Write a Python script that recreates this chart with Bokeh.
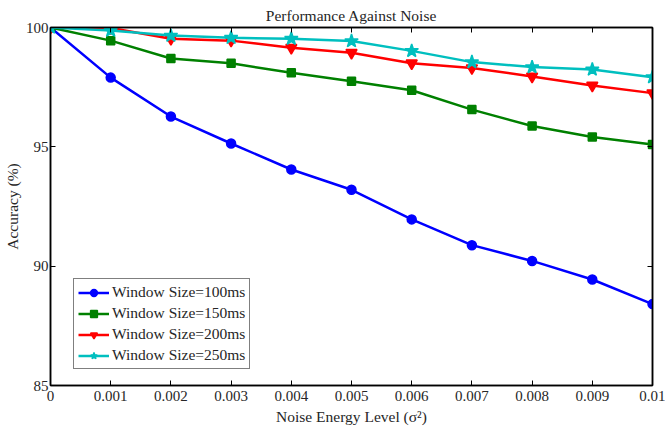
from bokeh.plotting import figure
from bokeh.models import FixedTicker, LinearAxis, Range1d, Legend, LegendItem
from bokeh.embed import file_html
from bokeh.resources import INLINE

noise = [0, 0.001, 0.002, 0.003, 0.004, 0.005, 0.006, 0.007, 0.008, 0.009, 0.01]
acc_100 = [100, 97.9, 96.27, 95.14, 94.05, 93.2, 91.96, 90.88, 90.22, 89.44, 88.41]
acc_150 = [100, 99.45, 98.7, 98.5, 98.1, 97.75, 97.37, 96.56, 95.87, 95.41, 95.1]
acc_200 = [100, 99.98, 99.53, 99.45, 99.15, 98.94, 98.5, 98.3, 97.95, 97.57, 97.25]
acc_250 = [100, 99.87, 99.66, 99.57, 99.53, 99.43, 99.02, 98.55, 98.34, 98.24, 97.92]
x_ticks = [0, 0.001, 0.002, 0.003, 0.004, 0.005, 0.006, 0.007, 0.008, 0.009, 0.01]
x_tick_labels = ["0", "0.001", "0.002", "0.003", "0.004", "0.005", "0.006", "0.007", "0.008", "0.009", "0.01"]
y_ticks = [85, 90, 95, 100]
labels = ["Window Size=100ms", "Window Size=150ms", "Window Size=200ms", "Window Size=250ms"]

FONT = "Liberation Serif"
TXT = "#262626"

p = figure(width=665, height=428, output_backend="svg", toolbar_location=None,
           x_range=Range1d(0, 0.01), y_range=Range1d(85, 100),
           min_border_left=49, min_border_right=13, min_border_top=27, min_border_bottom=43)
p.title.text = "Performance Against Noise"
p.title.align = "center"
p.title.text_font = FONT
p.title.text_font_style = "normal"
p.title.text_font_size = "15.5px"
p.title.text_color = TXT
p.title.text_line_height = 0.85
p.title.standoff = 7
p.title.offset = 0
p.xgrid.visible = False
p.ygrid.visible = False
p.outline_line_color = "black"
p.outline_line_width = 1.5
p.background_fill_color = "white"
p.border_fill_color = "white"

def style_axis(ax, show_labels=True):
    ax.major_tick_in = 5
    ax.major_tick_out = 0
    ax.minor_tick_in = 0
    ax.minor_tick_out = 0
    ax.axis_line_color = "black"
    ax.axis_line_width = 1.5
    ax.major_tick_line_color = "black"
    ax.major_label_text_font = FONT
    ax.major_label_text_font_size = "15px"
    ax.major_label_text_color = TXT
    ax.axis_label_text_font = FONT
    ax.axis_label_text_font_size = "15.5px"
    ax.axis_label_text_font_style = "normal"
    ax.axis_label_text_color = TXT
    if not show_labels:
        ax.major_label_text_font_size = "0px"
        ax.major_label_text_alpha = 0
        ax.major_label_standoff = 0

p.xaxis.ticker = FixedTicker(ticks=x_ticks)
p.yaxis.ticker = FixedTicker(ticks=y_ticks)
p.xaxis.major_label_overrides = {t: l for t, l in zip(x_ticks, x_tick_labels)}
p.xaxis.axis_label = "Noise Energy Level (σ²)"
p.yaxis.axis_label = "Accuracy (%)"
style_axis(p.xaxis[0])
style_axis(p.yaxis[0])
p.xaxis.major_label_standoff = 5
p.yaxis.major_label_standoff = 2
p.xaxis.axis_label_standoff = 4
p.yaxis.axis_label_standoff = 2

ax_top = LinearAxis(ticker=FixedTicker(ticks=x_ticks))
ax_right = LinearAxis(ticker=FixedTicker(ticks=y_ticks))
style_axis(ax_top, False)
style_axis(ax_right, False)
p.add_layout(ax_top, "above")
p.add_layout(ax_right, "right")

series = [
    (acc_100, "#0000FF", "circle", 9),
    (acc_150, "#008000", "square", 8),
    (acc_200, "#FF0000", "inverted_triangle", 11),
    (acc_250, "#00BFBF", "star", 14),
]
items = []
for (vals, color, marker, size), lab in zip(series, labels):
    r1 = p.line(noise, vals, line_color=color, line_width=2.5)
    r2 = p.scatter(noise, vals, marker=marker, size=size, fill_color=color, line_color=color, line_width=1.5)
    items.append(LegendItem(label=lab, renderers=[r1, r2]))

leg = Legend(items=items, location=(23, 16))
leg.label_text_font = FONT
leg.label_text_font_size = "15.5px"
leg.label_text_color = TXT
leg.border_line_color = "black"
leg.border_line_width = 1.5
leg.padding = 4
leg.margin = 0
leg.spacing = 3
leg.glyph_width = 31
leg.glyph_height = 17
leg.label_height = 17
leg.label_standoff = 3
leg.background_fill_alpha = 1
p.add_layout(leg)

open("out.html", "w").write(file_html(p, INLINE))
